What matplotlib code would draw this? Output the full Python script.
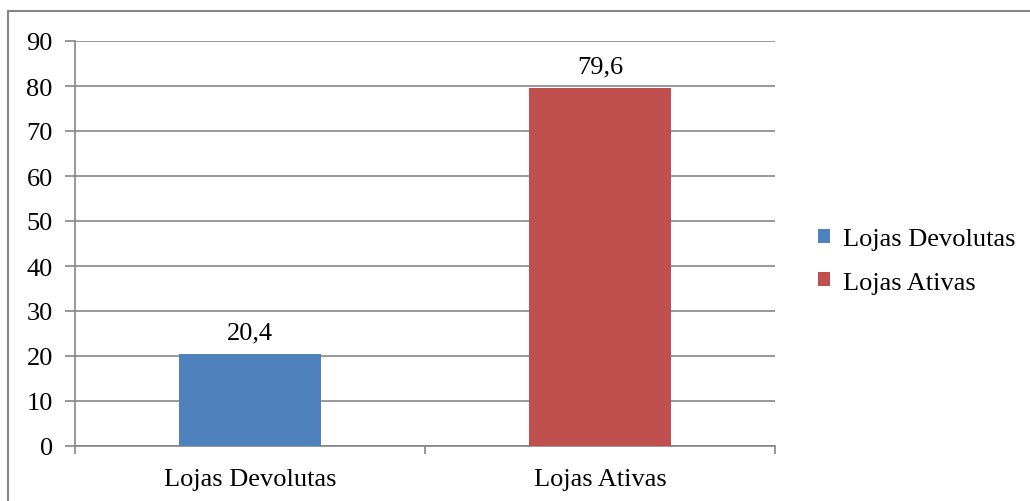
import matplotlib
matplotlib.use("Agg")
import matplotlib.pyplot as plt
from matplotlib.lines import Line2D
from matplotlib.patches import Patch

categories = ["Lojas Devolutas", "Lojas Ativas"]
values = [20.4, 79.6]
labels = ["20,4", "79,6"]
colors = ["#4F81BD", "#C0504D"]
yticks = [0, 10, 20, 30, 40, 50, 60, 70, 80, 90]

plt.rcParams['font.family'] = ['Liberation Serif', 'DejaVu Serif']
grid_c = "#868686"
FS = 19

fig = plt.figure(figsize=(10.30, 5.02), dpi=100)
ax = fig.add_axes([75/1030, 1-447/502, 700/1030, 405/502])

x = list(range(len(categories)))
bars = ax.bar(x, values, width=0.403, color=colors, zorder=3)
for xi, v, lab in zip(x, values, labels):
    ax.annotate(lab, (xi, v), xytext=(0, 7.5), textcoords="offset points",
                ha="center", va="bottom", fontsize=FS)

ax.set_xlim(-0.5, len(categories) - 0.5)
ax.set_ylim(0, 90)
ax.set_yticks(yticks)
ax.set_yticklabels([str(t) for t in yticks], fontsize=FS)
ax.yaxis.grid(True, color=grid_c, linewidth=1.2, zorder=0)
ax.set_axisbelow(True)
for s in ["top", "right"]:
    ax.spines[s].set_visible(False)
for s in ["left", "bottom"]:
    ax.spines[s].set_color(grid_c)
    ax.spines[s].set_linewidth(1.2)
ax.tick_params(axis="y", length=7, width=1.2, color=grid_c, pad=9)

# x: category labels centered, ticks at category boundaries
ax.set_xticks([-0.5, 0.5, 1.5])
ax.set_xticklabels([])
ax.set_xticks(x, minor=True)
ax.set_xticklabels(categories, minor=True, fontsize=FS)
ax.tick_params(axis="x", which="major", length=6, width=1.2, color=grid_c, direction="out")
ax.tick_params(axis="x", which="minor", length=0, pad=16)

handles = [Patch(facecolor=c, edgecolor="none") for c in colors]
fig.legend(handles, categories, loc="center left", bbox_to_anchor=(794/1030, 1-262/502),
           frameon=False, fontsize=FS, handlelength=0.45, handleheight=0.45,
           handletextpad=0.5, labelspacing=0.8)

# outer border (top and left visible)
fig.add_artist(Line2D([8/1030, 8/1030], [0, 1-12/502], transform=fig.transFigure,
                      color=grid_c, linewidth=1.5))
fig.add_artist(Line2D([8/1030, 1], [1-12/502, 1-12/502], transform=fig.transFigure,
                      color=grid_c, linewidth=1.5))

fig.savefig("out.png", dpi=100)
